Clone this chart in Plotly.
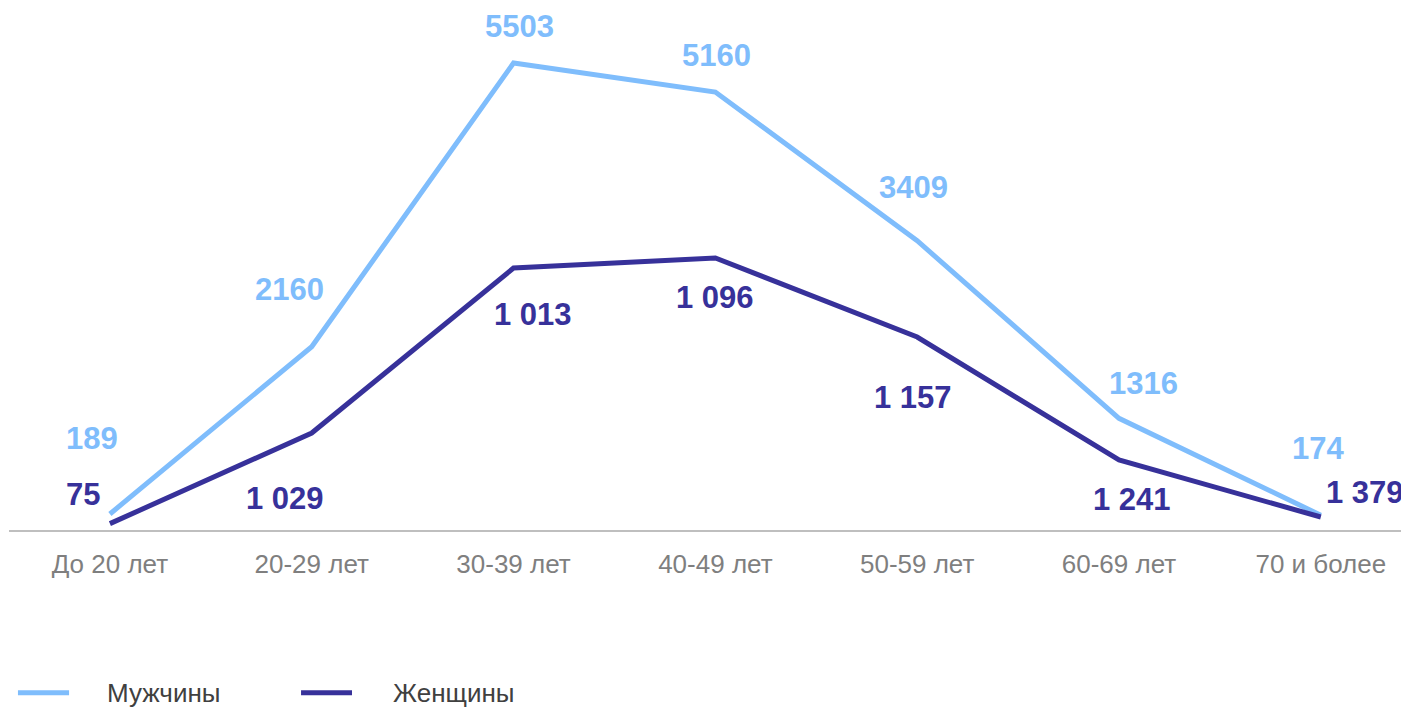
import plotly.graph_objects as go

categories = ["До 20 лет", "20-29 лет", "30-39 лет", "40-49 лет", "50-59 лет", "60-69 лет", "70 и более"]
series_names = ["Мужчины", "Женщины"]
men_values = [189, 2160, 5503, 5160, 3409, 1316, 174]
men_labels = ["189", "2160", "5503", "5160", "3409", "1316", "174"]
women_values = [75, 1143, 3087, 3205, 2274, 825, 153]
women_labels = ["75", "1 029", "1 013", "1 096", "1 157", "1 241", "1 379"]

MEN_COLOR = "#7FBDFC"
WOMEN_COLOR = "#37319A"
FONT = "Liberation Sans, Arial, sans-serif"

# label offsets in pixels (x shift, y shift) relative to each point
men_shift = [(-18, 75), (-22, 57), (6, 36), (1, 37), (-4, 53), (25, 35), (-3, 67)]
women_shift = [(-27, 29), (-27, -65), (19, -46), (0, -39), (-4, -60), (13, -40), (44, 25)]

xs = list(range(len(categories)))

fig = go.Figure()
fig.add_trace(go.Scatter(x=xs, y=men_values, mode="lines", name=series_names[0],
                         line=dict(color=MEN_COLOR, width=5), showlegend=False))
fig.add_trace(go.Scatter(x=xs, y=women_values, mode="lines", name=series_names[1],
                         line=dict(color=WOMEN_COLOR, width=5), showlegend=False))

for i, (v, t) in enumerate(zip(men_values, men_labels)):
    fig.add_annotation(x=xs[i], y=v, text=t, showarrow=False,
                       xshift=men_shift[i][0], yshift=men_shift[i][1],
                       font=dict(family=FONT, size=31, color=MEN_COLOR, weight="bold"))
for i, (v, t) in enumerate(zip(women_values, women_labels)):
    fig.add_annotation(x=xs[i], y=v, text=t, showarrow=False,
                       xshift=women_shift[i][0], yshift=women_shift[i][1],
                       font=dict(family=FONT, size=31, color=WOMEN_COLOR, weight="bold"))

# manual legend (paper coordinates)
leg_y = -0.312
leg_items = [(series_names[0], MEN_COLOR, 0.0064, 0.0429, 0.0686),
             (series_names[1], WOMEN_COLOR, 0.2086, 0.2450, 0.2729)]
for name, col, x0, x1, xt in leg_items:
    fig.add_shape(type="line", xref="paper", yref="paper", x0=x0, x1=x1, y0=leg_y, y1=leg_y,
                  line=dict(color=col, width=5))
    fig.add_annotation(xref="paper", yref="paper", x=xt, y=leg_y, text=name, showarrow=False,
                       xanchor="left", yanchor="middle",
                       font=dict(family=FONT, size=26, color="#404040"))

fig.update_layout(
    width=1401, height=699,
    margin=dict(l=1, r=0, t=0, b=177),
    paper_bgcolor="white", plot_bgcolor="white",
    font=dict(family=FONT, size=26, color="#404040"),
    showlegend=False,
    xaxis=dict(range=[-0.5, 6.437], tickmode="array", tickvals=xs, ticktext=categories,
               showgrid=False, zeroline=False, showline=True, linecolor="#BFBFBF", linewidth=2,
               ticks="", ticklabelstandoff=10, tickfont=dict(family=FONT, size=26, color="#7F7F7F"),
               fixedrange=True, automargin=False),
    yaxis=dict(range=[0, 6151], showgrid=False, zeroline=False, showticklabels=False,
               showline=False, fixedrange=True, automargin=False),
)

fig.write_html("out.html")
